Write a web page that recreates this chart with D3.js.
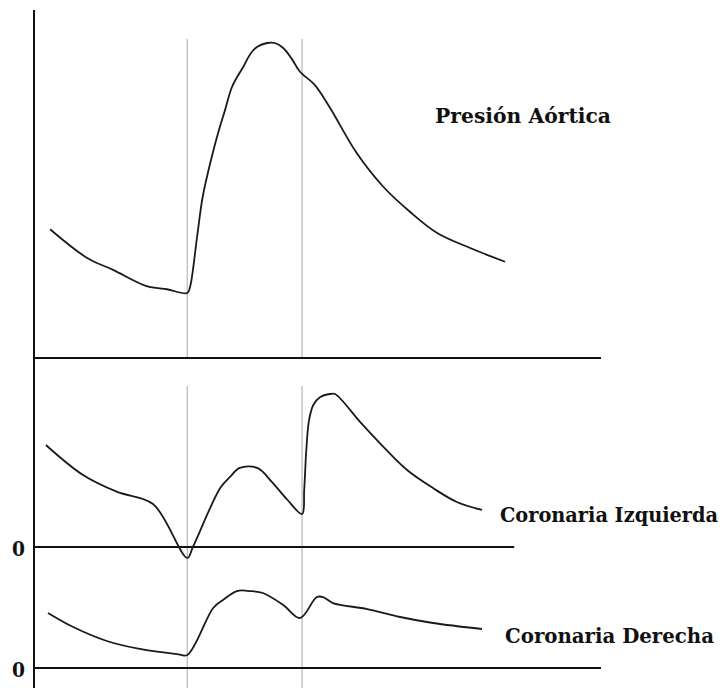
<!DOCTYPE html>
<html>
    <head>
        <title>Presión aórtica y flujo coronario</title>
        <meta charset="UTF-8">
        <script type="text/javascript" src="https://cdn.jsdelivr.net/npm/d3@7/dist/d3.min.js"></script>
        <style type="text/css">
            body{
                margin: 0;
                background-color: white;
            }
            .rotulo{
                font-family: "DejaVu Serif", serif;
                font-weight: bold;
                font-size: 21px;
                fill: #111;
            }
            .coronaria{
                font-size: 20px;
            }
            .curva{
                fill: none;
                stroke: #1a1a1a;
                stroke-width: 1.8;
            }
        </style>
    </head>
    <body>
        <div id="content"></div>
    </body>

    <script>
        // tiempo en ms, presión en mmHg, flujo en ml/min
        let valvulas = [219, 383];

        let presionAortica = [
            [23, 90.2], [76, 85.6], [113, 83.7], [161, 81.1], [190, 80.6], [219, 80],
            [223, 81], [233, 89], [241, 95.4], [254, 101.8], [263, 105.6], [273, 109.3],
            [283, 113], [299, 116.2], [310, 118.4], [319, 119.4], [333, 120], [344, 120],
            [356, 119.2], [368, 117.5], [380, 115.4], [401, 113.3], [423, 109.6], [461, 102.4],
            [499, 97], [537, 93], [576, 89.6], [623, 87.2], [673, 85]
        ];

        let coronariaIzquierda = [
            [17, 68], [70, 48], [119, 36.7], [170, 28.7], [219, -7.3], [227, 0],
            [266, 39.3], [280, 46.7], [294, 52.7], [319, 52.7], [340, 43.3], [361, 32],
            [383, 22], [386, 38], [389, 64.7], [393, 84.7], [399, 94.7], [409, 100],
            [423, 102], [430, 102], [466, 83.3], [494, 69.3], [533, 51.3], [570, 39.3],
            [604, 30], [640, 24.7]
        ];

        let coronariaDerecha = [
            [20, 36.7], [56, 27.3], [104, 18], [151, 12.7], [204, 9.3], [219, 8.7],
            [256, 40], [270, 45.3], [290, 51.3], [309, 51.3], [327, 50], [356, 42],
            [380, 33.3], [404, 47.3], [413, 47.3], [427, 43.3], [476, 39.3], [523, 34],
            [570, 30], [640, 26]
        ];

        let rotulos = [
            {texto: "Presión Aórtica", x: 435, y: 123, largo: 176, clase: ""},
            {texto: "Coronaria Izquierda", x: 500, y: 522, largo: 218, clase: "coronaria"},
            {texto: "Coronaria Derecha", x: 505, y: 643, largo: 209, clase: "coronaria"}
        ];

        let svg = d3.select("#content")
                .append("svg")
                .attr("width", 726)
                .attr("height", 688);

        let x = d3.scaleLinear().domain([0, 810]).range([34, 601]);
        let yAorta = d3.scaleLinear().domain([80, 120]).range([293, 43]);
        let yIzq = d3.scaleLinear().domain([0, 100]).range([547, 397]);
        let yDer = d3.scaleLinear().domain([0, 100]).range([668, 518]);

        // lineas grises de apertura y cierre de la válvula
        valvulas.forEach(t => {
            svg.append("line")
                    .attr("x1", x(t)).attr("x2", x(t))
                    .attr("y1", 39).attr("y2", 358)
                    .attr("stroke", "#c4c4c4").attr("stroke-width", 1.5);
            svg.append("line")
                    .attr("x1", x(t)).attr("x2", x(t))
                    .attr("y1", 386).attr("y2", 688)
                    .attr("stroke", "#c4c4c4").attr("stroke-width", 1.5);
        });

        // ejes
        svg.append("line")
                .attr("x1", x(0)).attr("x2", x(0))
                .attr("y1", 10).attr("y2", 688)
                .attr("stroke", "#111").attr("stroke-width", 2);

        let bases = [[358, 810], [yIzq(0), 686], [yDer(0), 810]];
        svg.selectAll(".base")
                .data(bases)
                .join("line")
                .attr("class", "base")
                .attr("x1", x(0))
                .attr("x2", d => x(d[1]))
                .attr("y1", d => d[0])
                .attr("y2", d => d[0])
                .attr("stroke", "#111")
                .attr("stroke-width", 2);

        function dibujarCurva(datos, escalaY) {
            let linea = d3.line()
                    .x(d => x(d[0]))
                    .y(d => escalaY(d[1]))
                    .curve(d3.curveCatmullRom.alpha(0.5));
            svg.append("path")
                    .datum(datos)
                    .attr("class", "curva")
                    .attr("d", linea);
        }

        dibujarCurva(presionAortica, yAorta);
        dibujarCurva(coronariaIzquierda, yIzq);
        dibujarCurva(coronariaDerecha, yDer);

        svg.selectAll(".nombre")
                .data(rotulos)
                .join("text")
                .attr("class", d => "rotulo nombre " + d.clase)
                .attr("x", d => d.x)
                .attr("y", d => d.y)
                .attr("textLength", d => d.largo)
                .attr("lengthAdjust", "spacingAndGlyphs")
                .text(d => d.texto);

        svg.selectAll(".cero")
                .data([yIzq(0), yDer(0)])
                .join("text")
                .attr("class", "rotulo cero")
                .attr("x", 12)
                .attr("y", d => d + 9)
                .attr("textLength", 13)
                .attr("lengthAdjust", "spacingAndGlyphs")
                .text("0");
    </script>
</html>
